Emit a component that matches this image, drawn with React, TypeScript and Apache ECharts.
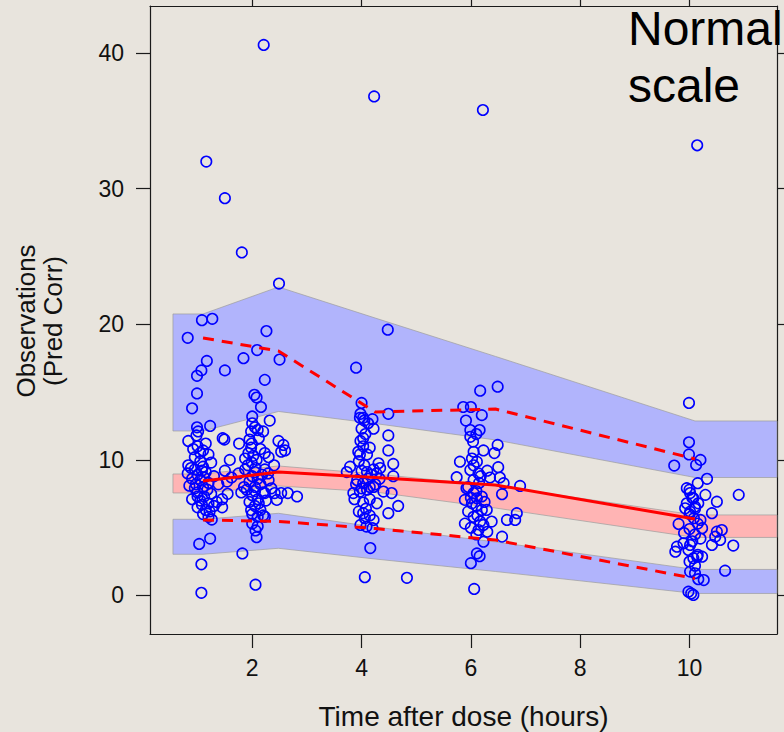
import React, { useEffect, useRef } from "react";
import * as echarts from "echarts";

// Axis ticks
const xTicks = [2, 4, 6, 8, 10];
const yTicks = [0, 10, 20, 30, 40];

// Band x positions (bin midpoints, extended to the edges) and bin midpoints for lines
const bandX = [0.55, 1.1, 2.48, 4.25, 6.45, 10.1, 11.6];
const binX = [1.1, 2.48, 4.25, 6.45, 10.1];

// Simulated CIs
const upperPiHi = [20.76, 20.76, 22.75, 20.46, 17.63, 12.87, 12.87];
const upperPiLo = [12.13, 12.13, 13.57, 12.68, 11.47, 8.7, 8.7];
const medianPiHi = [8.96, 8.96, 9.55, 8.96, 8.08, 5.94, 5.94];
const medianPiLo = [7.56, 7.56, 8.08, 7.63, 6.45, 4.28, 4.28];
const lowerPiHi = [5.62, 5.62, 6.06, 5.05, 3.95, 1.92, 1.92];
const lowerPiLo = [3.04, 3.04, 3.48, 2.69, 1.77, 0.15, 0.15];

// Observed percentiles
const obsMedian = [8.44, 9.11, 8.7, 8.15, 5.64];
const obsP95 = [18.99, 18.03, 13.53, 13.75, 10.07];
const obsP05 = [5.57, 5.46, 4.94, 4.09, 1.25];

// Observations (pred corr)
const obsNear1 = [
  [1.16, 32.0], [1.5, 29.3], [1.81, 25.3], [1.08, 20.3], [1.27, 20.4], [0.82, 19.0],
  [1.17, 17.3], [1.07, 16.6], [0.99, 16.2], [1.5, 16.6], [0.99, 14.9], [0.9, 13.8], [1.23, 12.5],
  [0.99, 12.4], [1.01, 12.1], [0.98, 11.8], [0.83, 11.4], [1.49, 11.5], [1.76, 11.2],
  [1.0, 11.0], [1.1, 10.7], [1.2, 10.4], [0.95, 10.2], [1.05, 9.9], [1.25, 9.8], [1.1, 9.5],
  [0.95, 9.3], [0.88, 9.4], [1.15, 9.1], [1.0, 8.9], [1.3, 8.8], [0.9, 8.6], [1.05, 8.5],
  [1.2, 8.3], [1.1, 8.0], [0.95, 7.9], [1.0, 7.6], [1.25, 7.5], [1.12, 7.3], [0.9, 7.1],
  [1.05, 7.0], [1.2, 6.8], [1.35, 6.9], [1.0, 6.5], [1.15, 6.3], [1.3, 6.6], [1.45, 7.1],
  [1.55, 7.5], [0.85, 8.1], [0.82, 9.0], [1.38, 8.2], [1.1, 6.0], [1.2, 5.8], [1.45, 6.5],
  [1.59, 10.0], [1.5, 9.2], [0.83, 9.6], [1.54, 8.4], [1.62, 8.7],
  [1.05, 10.5], [0.92, 10.8], [1.15, 11.2], [1.08, 9.2], [0.97, 8.2], [1.18, 7.8],
  [1.08, 6.7], [1.22, 6.2], [1.0, 7.3], [1.12, 8.7], [1.46, 11.6],
  [1.26, 5.6], [1.23, 4.2], [1.03, 3.8], [1.07, 2.3], [1.07, 0.2], [1.82, 3.1],
];
const obsNear2 = [
  [2.21, 40.6], [2.49, 23.0], [2.26, 19.5], [2.09, 18.1], [1.84, 17.5], [2.5, 17.4],
  [2.23, 15.9], [2.04, 14.8], [2.08, 14.6], [2.16, 13.9], [2.0, 13.2], [2.32, 12.9],
  [2.0, 12.7], [2.05, 12.4], [2.1, 12.2], [1.98, 12.1], [2.2, 12.1],
  [1.99, 11.2], [1.98, 10.9], [1.93, 10.5], [2.02, 10.3], [1.87, 10.1], [2.08, 10.0],
  [2.23, 10.5], [1.99, 9.8], [2.06, 9.4], [2.23, 9.3], [1.87, 9.3], [2.29, 9.0],
  [2.48, 11.4], [2.57, 11.1], [2.6, 10.7], [2.53, 10.6],
  [2.0, 8.8], [2.1, 8.6], [1.95, 8.4], [2.15, 8.2], [2.05, 8.0], [1.9, 7.8], [2.2, 7.6],
  [2.0, 7.4], [2.1, 7.1], [2.25, 7.0], [1.95, 6.9], [2.05, 6.6], [2.15, 6.3], [2.0, 6.0],
  [2.1, 5.8], [2.3, 8.5], [2.35, 7.9], [1.85, 8.0], [1.8, 7.6], [1.75, 9.0], [2.2, 5.9],
  [2.23, 7.55], [2.41, 7.55], [2.53, 7.55], [2.65, 7.55], [2.82, 7.3], [2.45, 7.05],
  [2.12, 11.6], [1.95, 11.5], [2.15, 10.8], [2.05, 9.1], [2.18, 8.9], [1.92, 9.6],
  [2.3, 10.2], [2.4, 9.6], [2.12, 6.8], [1.98, 6.3], [2.05, 7.7],
  [2.23, 5.8], [2.06, 4.8], [2.08, 4.3], [2.06, 0.8], [2.0, 5.3], [2.1, 5.1],
];
const obsNear4 = [
  [4.23, 36.8], [4.48, 19.6], [3.9, 16.8], [4.0, 14.2], [4.49, 13.4], [3.97, 13.1],
  [4.03, 13.1], [4.2, 13.0], [4.0, 12.3], [4.22, 12.3], [4.03, 11.6], [3.98, 11.4],
  [4.49, 11.8], [4.03, 11.0], [4.15, 10.9], [3.97, 10.4], [4.49, 10.7], [4.58, 9.7],
  [3.79, 9.5], [3.73, 9.1], [4.31, 9.75], [4.34, 9.4], [4.22, 9.3], [4.0, 9.2], [4.1, 9.1],
  [4.58, 8.8], [4.03, 8.28], [4.15, 8.0], [3.97, 7.66], [3.85, 7.55], [4.1, 7.8], [4.22, 8.0],
  [4.4, 7.66], [4.55, 7.55], [3.87, 7.1], [4.03, 6.85], [4.15, 7.1], [4.67, 6.6], [4.28, 6.8],
  [4.49, 6.07], [4.03, 6.07], [4.06, 5.7], [3.98, 5.2], [4.09, 5.08], [4.2, 4.96], [4.22, 5.57],
  [3.95, 9.9], [4.05, 9.6], [4.12, 8.6], [3.92, 8.5], [4.18, 8.9], [4.0, 7.9], [4.25, 8.2],
  [3.9, 8.2], [4.08, 6.4], [3.95, 6.2], [4.15, 5.9], [4.12, 12.7], [4.07, 11.9], [4.1, 10.4],
  [3.94, 10.6], [4.27, 9.0], [4.33, 8.6], [4.05, 12.9], [3.98, 13.4],
  [4.16, 3.5], [4.06, 1.35], [4.83, 1.3],
];
const obsNear6 = [
  [6.22, 35.8], [6.49, 15.4], [6.17, 15.1], [5.86, 13.9], [6.0, 13.9], [6.2, 13.3],
  [5.91, 12.9], [6.16, 12.2], [5.99, 12.2], [5.99, 11.7], [6.04, 11.35], [6.49, 11.1],
  [6.43, 10.5], [6.23, 10.7], [5.8, 9.87], [6.02, 10.1], [6.11, 9.87], [6.5, 9.46],
  [5.74, 8.72], [5.99, 9.26], [6.14, 9.0], [6.05, 8.52], [6.35, 8.7], [6.53, 8.7], [6.6, 8.28],
  [6.9, 8.08], [6.57, 7.47], [5.92, 7.91], [6.05, 7.55], [6.11, 7.17], [5.89, 7.05], [6.02, 6.8],
  [6.2, 6.31], [6.29, 6.31], [6.05, 5.8], [5.89, 5.3], [6.17, 5.45], [6.38, 5.45], [6.23, 5.2],
  [6.14, 4.83], [6.66, 5.57], [6.84, 6.07], [6.81, 5.57], [6.57, 4.34], [6.23, 3.97],
  [6.05, 9.6], [6.15, 8.3], [5.95, 8.0], [6.1, 7.7], [6.2, 7.3], [6.0, 7.2], [6.1, 6.6],
  [6.25, 6.9], [5.95, 6.2], [6.12, 5.9], [6.05, 10.6], [6.1, 11.9], [6.18, 8.8], [6.3, 9.2],
  [6.0, 5.0], [6.1, 4.5], [6.3, 4.7],
  [6.11, 3.1], [6.16, 2.9], [6.0, 2.38], [6.06, 0.48],
];
const obsNear10 = [
  [10.14, 33.2], [9.99, 14.2], [9.99, 11.3], [9.99, 10.4], [10.2, 10.0], [9.72, 9.58],
  [10.12, 9.63], [10.32, 8.6], [10.15, 8.28], [10.9, 7.42],
  [9.95, 7.91], [10.01, 7.55], [10.07, 7.17], [10.16, 6.8], [9.92, 6.43], [10.01, 6.18],
  [10.1, 6.55], [10.29, 7.42], [10.5, 6.92], [10.41, 6.07],
  [9.8, 5.28], [10.2, 5.57], [10.23, 4.96], [10.5, 4.71], [10.59, 4.83], [10.47, 4.34],
  [10.56, 4.1], [10.41, 3.73], [10.8, 3.68],
  [9.77, 3.6], [9.74, 3.23], [9.89, 3.85], [10.01, 3.73], [10.14, 2.86], [9.98, 3.36],
  [10.07, 2.75], [10.23, 2.86],
  [10.0, 7.8], [10.05, 7.2], [9.95, 6.8], [10.1, 6.4], [10.0, 6.0], [10.08, 5.7], [10.15, 5.3],
  [10.0, 4.9], [10.1, 4.5], [10.05, 4.0], [9.9, 4.6], [10.2, 4.2], [10.1, 2.2], [10.0, 2.5],
  [10.15, 3.0],
  [10.65, 1.83], [10.01, 1.76], [10.1, 1.64], [10.16, 1.2], [10.26, 1.14], [9.98, 0.28],
  [10.07, 0.04], [10.03, 0.15],
];

const FONT = "'Liberation Sans', Arial, Helvetica, sans-serif";
const BG = "#e8e4dd";
const AXIS_COLOR = "#1a1a1a";

function bandSeries(hi: number[], lo: number[], fill: string) {
  return {
    type: "custom",
    silent: true,
    z: 1,
    data: [[5, 5]],
    renderItem: (_params: any, api: any) => {
      const pts: number[][] = [];
      for (let i = 0; i < bandX.length; i++) pts.push(api.coord([bandX[i], hi[i]]));
      for (let i = bandX.length - 1; i >= 0; i--) pts.push(api.coord([bandX[i], lo[i]]));
      return {
        type: "polygon",
        shape: { points: pts },
        style: { fill, stroke: "#9c9c9c", lineWidth: 0.7 },
      };
    },
  };
}

function lineSeries(vals: number[], dashed: boolean) {
  return {
    type: "line",
    z: 4,
    silent: true,
    symbol: "none",
    data: binX.map((x, i) => [x, vals[i]]),
    lineStyle: { color: "#ff0000", width: 3, type: dashed ? [11, 8] : "solid", cap: "butt" },
  };
}

export default function App() {
  const ref = useRef<HTMLDivElement>(null);
  useEffect(() => {
    const chart = echarts.init(ref.current!, null, { renderer: "svg" });
    const xMin = 0.13, xMax = 11.6, yMin = -2.84, yMax = 43.47;
    const axisCommon = (ticks: number[]) => ({
      type: "value",
      axisLine: { show: true, onZero: false, lineStyle: { color: AXIS_COLOR, width: 1.2 } },
      axisTick: { show: true, inside: false, length: 14, customValues: ticks, lineStyle: { color: AXIS_COLOR, width: 1.2 } },
      splitLine: { show: false },
    });
    chart.setOption({
      animation: false,
      backgroundColor: BG,
      grid: { left: 150, right: 7, top: 6, bottom: 98, containLabel: false, outerBoundsMode: "none" },
      xAxis: [
        {
          ...axisCommon(xTicks),
          position: "bottom",
          min: xMin,
          max: xMax,
          axisLabel: { customValues: xTicks, margin: 22, fontSize: 23, color: "#111", fontFamily: FONT },
        },
        {
          ...axisCommon(xTicks),
          position: "top",
          min: xMin,
          max: xMax,
          axisLabel: { show: false },
        },
      ],
      yAxis: [
        {
          ...axisCommon(yTicks),
          position: "left",
          min: yMin,
          max: yMax,
          axisLabel: { customValues: yTicks, margin: 26, fontSize: 23, color: "#111", fontFamily: FONT },
        },
        {
          ...axisCommon(yTicks),
          position: "right",
          min: yMin,
          max: yMax,
          axisLabel: { show: false },
        },
      ],
      series: [
        bandSeries(upperPiHi, upperPiLo, "#b1b4fc"),
        bandSeries(medianPiHi, medianPiLo, "#ffb4b4"),
        bandSeries(lowerPiHi, lowerPiLo, "#b1b4fc"),
        {
          type: "scatter",
          z: 3,
          silent: true,
          symbol: "circle",
          symbolSize: 10.5,
          data: [...obsNear1, ...obsNear2, ...obsNear4, ...obsNear6, ...obsNear10],
          itemStyle: { color: "rgba(0,0,0,0)", borderColor: "#0000ff", borderWidth: 1.6, opacity: 1 },
        },
        lineSeries(obsMedian, false),
        lineSeries(obsP95, true),
        lineSeries(obsP05, true),
      ],
      graphic: [
        {
          type: "text",
          x: 463.5,
          y: 716,
          z: 10,
          style: { text: "Time after dose (hours)", font: `28px ${FONT}`, fill: "#111", textAlign: "center", textVerticalAlign: "middle" },
        },
        {
          type: "text",
          x: 26,
          y: 321,
          rotation: Math.PI / 2,
          z: 10,
          style: { text: "Observations", font: `26px ${FONT}`, fill: "#111", textAlign: "center", textVerticalAlign: "middle" },
        },
        {
          type: "text",
          x: 53,
          y: 321,
          rotation: Math.PI / 2,
          z: 10,
          style: { text: "(Pred Corr)", font: `26px ${FONT}`, fill: "#111", textAlign: "center", textVerticalAlign: "middle" },
        },
        {
          type: "text",
          x: 628,
          y: 28,
          z: 10,
          style: { text: "Normal", font: `48px ${FONT}`, fill: "#000", textAlign: "left", textVerticalAlign: "middle" },
        },
        {
          type: "text",
          x: 628,
          y: 85,
          z: 10,
          style: { text: "scale", font: `48px ${FONT}`, fill: "#000", textAlign: "left", textVerticalAlign: "middle" },
        },
      ],
    });
    return () => chart.dispose();
  }, []);
  return (
    <div
      ref={ref}
      style={{ position: "absolute", left: 0, top: 0, width: 784, height: 732, background: BG }}
    />
  );
}
